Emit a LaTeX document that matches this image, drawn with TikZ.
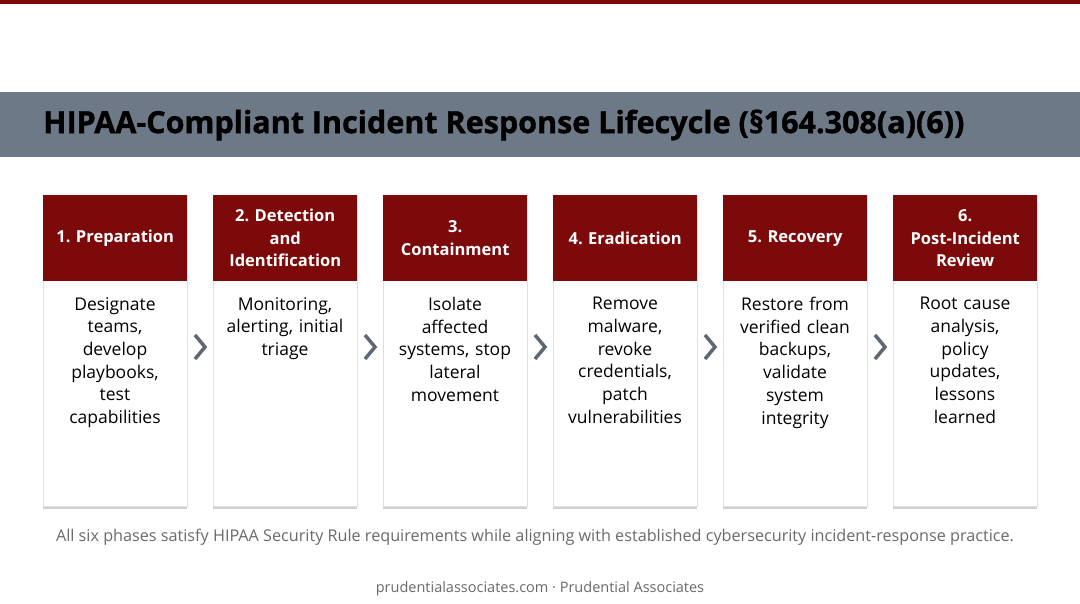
\documentclass[tikz,border=0pt]{standalone}
\usepackage{fontspec}
\setmainfont{Open Sans}
\newfontfamily\titlefont[FakeBold=1.2]{Open Sans Bold}
\usetikzlibrary{shadows}
\definecolor{dred}{HTML}{7D0A0A}
\definecolor{band}{HTML}{6D7986}
\definecolor{chev}{HTML}{5E6873}
\definecolor{note}{HTML}{6A6A6A}
\begin{document}
\hyphenpenalty=10000
\frenchspacing
\begin{tikzpicture}[x=1pt,y=-1pt,
  head/.style={fill=dred,draw=none,minimum width=144pt,minimum height=86pt,anchor=north west,text=white,align=center,text width=136pt,font=\fontsize{16.5}{22.5}\selectfont\bfseries},
  body/.style={fill=white,draw=black!12,line width=0.6pt,minimum width=144pt,minimum height=311pt,anchor=north west,drop shadow={shadow xshift=0pt,shadow yshift=-2.5pt,opacity=0.3,fill=black!60}},
  txt/.style={anchor=north,align=center,text width=134pt,font=\fontsize{17.5}{22.7}\selectfont,inner sep=0pt},
  chv/.style={draw=chev,line width=3.5pt,line cap=butt,line join=miter}]
\useasboundingbox (0,0) rectangle (1080,603);
\fill[white] (0,0) rectangle (1080,603);
\fill[dred] (0,0) rectangle (1080,4);
\fill[band] (0,92) rectangle (1080,157);
\node[anchor=west,inner sep=0pt,font=\titlefont\fontsize{30.5}{31}\selectfont] (title) at (43,125) {HIPAA-Compliant Incident Response Lifecycle (§164.308(a)(6))};
\foreach \i/\h/\b in {0/{1. Preparation}/{Designate\\teams,\\develop\\playbooks,\\test\\capabilities},
  1/{2. Detection\\and\\Identification}/{Monitoring,\\alerting, initial\\triage},
  2/{3.\\Containment}/{Isolate\\affected\\systems, stop\\lateral\\movement},
  3/{4. Eradication}/{Remove\\malware,\\revoke\\credentials,\\patch\\vulnerabilities},
  4/{5. Recovery}/{Restore from\\verified clean\\backups,\\validate\\system\\integrity},
  5/{6.\\Post-Incident\\Review}/{Root cause\\analysis,\\policy\\updates,\\lessons\\learned}}{
  \node[body] (b\i) at (43+170*\i,195) {};
  \node[head] (h\i) at (43+170*\i,195) {\h};
  \node[txt] (t\i) at (115+170*\i,297) {\b};
}
\foreach \i in {0,...,4}{\coordinate (c\i) at (200+170*\i,347);
  \draw[chv] ([xshift=-5pt,yshift=-12pt]c\i) -- ([xshift=5pt]c\i) -- ([xshift=-5pt,yshift=12pt]c\i);}
\node[text=note,font=\fontsize{16.2}{18}\selectfont] (fn) at (535,537) {All six phases satisfy HIPAA Security Rule requirements while aligning with established cybersecurity incident-response practice.};
\node[text=note,font=\fontsize{14.5}{18}\selectfont] (ft) at (540,589) {prudentialassociates.com · Prudential Associates};
\end{tikzpicture}
\end{document}
